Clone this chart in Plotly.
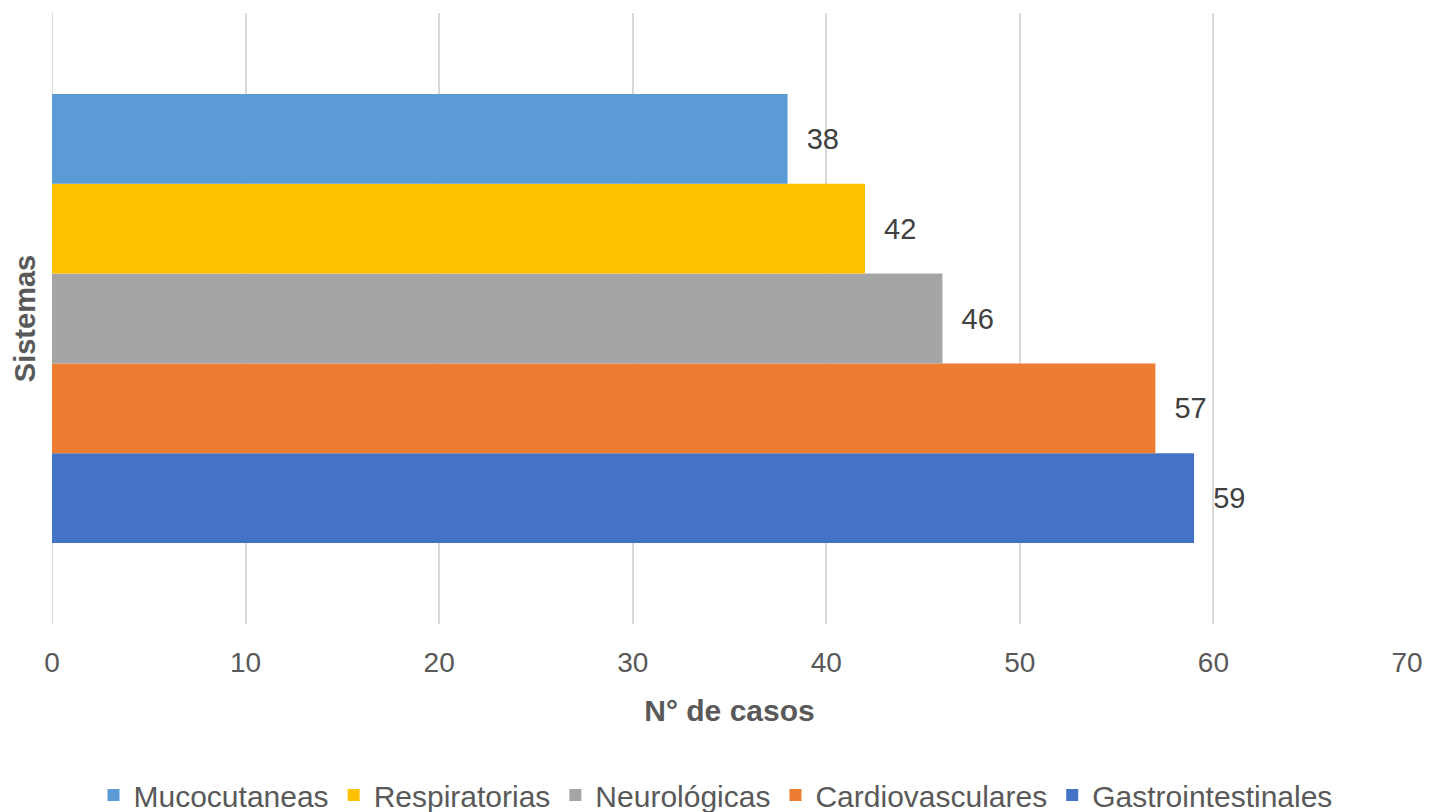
import plotly.graph_objects as go

# Data
series_names = ["Mucocutaneas", "Respiratorias", "Neurológicas", "Cardiovasculares", "Gastrointestinales"]
series_values = [38, 42, 46, 57, 59]
series_colors = ["#5B9BD5", "#FFC000", "#A5A5A5", "#ED7D31", "#4472C4"]
category = [""]
x_ticks = [0, 10, 20, 30, 40, 50, 60, 70]

FONT = "Liberation Sans, Arial, sans-serif"

fig = go.Figure()
# plotly draws the first trace at the bottom for horizontal bars -> add in reverse
for name, val, col in reversed(list(zip(series_names, series_values, series_colors))):
    fig.add_trace(go.Bar(
        x=[val], y=category, name=name, orientation="h",
        marker=dict(color=col, line=dict(width=0)),
        texttemplate="\u00a0\u00a0%{x}", textposition="outside",
        textfont=dict(family=FONT, size=29, color="#404040"),
        cliponaxis=False,
    ))

fig.update_layout(
    width=1431, height=812,
    margin=dict(l=52, r=24, t=13, b=188),
    plot_bgcolor="white", paper_bgcolor="white",
    barmode="group", bargap=0.265, bargroupgap=0,
    font=dict(family=FONT, color="#595959"),
    showlegend=True,
    legend=dict(orientation="h", x=0.5, xanchor="center", xref="container",
                y=(812 - 795) / 812, yanchor="middle", yref="container",
                traceorder="reversed", font=dict(family=FONT, size=30, color="#595959"),
                itemwidth=30, tracegroupgap=0),
    xaxis=dict(range=[0, 70], tickvals=x_ticks, showgrid=True, gridcolor="#D9D9D9", gridwidth=2,
               zeroline=False, showline=False, ticks="",
               tickfont=dict(family=FONT, size=28, color="#595959"), ticklabelstandoff=19,
               title=dict(text="<b>N° de casos</b>", font=dict(family=FONT, size=30, color="#595959"), standoff=22),
               automargin=False),
    yaxis=dict(showticklabels=False, ticks="", showgrid=False, zeroline=False, showline=False,
               title=dict(text="<b>Sistemas</b>", font=dict(family=FONT, size=29, color="#595959"), standoff=6),
               automargin=False),
)
fig.add_shape(type="line", xref="x", yref="paper", x0=0, x1=0, y0=0, y1=1,
              line=dict(color="#D9D9D9", width=2), layer="below")

fig.write_html("out.html", config={"displayModeBar": False},
               post_script="document.body.style.margin='0';document.body.style.overflow='hidden';")
